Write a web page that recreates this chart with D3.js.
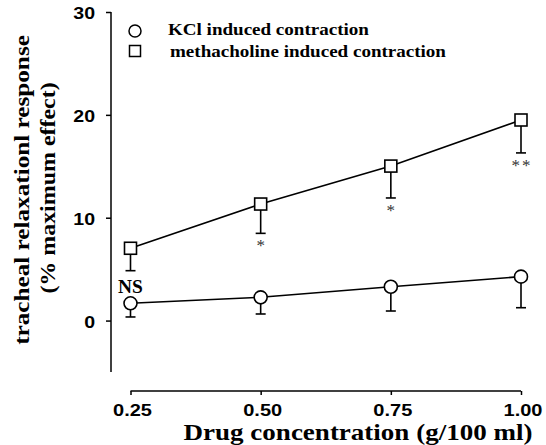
<!DOCTYPE html>
<html>
<head>
<meta charset="utf-8">
<script src="https://cdn.jsdelivr.net/npm/d3@7"></script>
<style>
  body { margin: 0; background: #fff; }
  svg { display: block; }
</style>
</head>
<body>
<svg id="chart" width="546" height="445"></svg>
<script>

// data
const concentrations = [0.25, 0.50, 0.75, 1.00];
const xTickLabels = ["0.25", "0.50", "0.75", "1.00"];
const yTicks = [0, 10, 20, 30];

const kclMean = [1.68, 2.26, 3.29, 4.27];
const kclSd = [1.33, 1.62, 2.36, 3.02];

const mchMean = [7.03, 11.33, 15.02, 19.5];
const mchSd = [2.18, 2.85, 3.1, 3.2];

const mchSignif = ["", "*", "*", "**"];
const kclSignif = ["NS", "", "", ""];

const legendLabels = ["KCl induced contraction", "methacholine induced contraction"];

const SERIF = "'Liberation Serif', 'Times New Roman', serif";
const SANS = "'Liberation Sans', Arial, sans-serif";

const vis = {

    svg : d3.select("#chart"),

    x : d3.scaleLinear().domain([0.25, 1.0]).range([130.5, 521]),
    y : d3.scaleLinear().domain([-5, 30]).range([372, 12]),

    // the original fonts are wide, so text is stretched along its own direction
    wide : function(sel, tx, ty, sx, rot) {
        sel.attr("transform", "translate(" + tx + "," + ty + ")" + (rot ? " rotate(" + rot + ")" : "") + " scale(" + sx + ",1)");
        return sel;
    },

    axes : {

        draw : function() {

            const svg = vis.svg;

            const yAxis = svg.append("g")
              .attr("transform", "translate(111,0)")
              .call(d3.axisLeft(vis.y).tickValues(yTicks).tickSize(5).tickFormat(d3.format("d")));

            yAxis.select(".domain").attr("d", "M0," + vis.y(-5) + "V" + vis.y(30)).attr("stroke-width", 1.5);
            yAxis.selectAll(".tick line").attr("stroke-width", 1.5);
            yAxis.selectAll("text")
              .attr("x", null)
              .attr("font-family", SANS)
              .attr("font-weight", "bold")
              .attr("font-size", 17)
              .attr("dy", "0.4em")
              .attr("fill", "#000")
              .call(vis.wide, -16, 0, 1.15);

            const xAxis = svg.append("g")
              .attr("transform", "translate(0,391)")
              .call(d3.axisBottom(vis.x).tickValues(concentrations).tickSize(4)
                .tickFormat((d, i) => xTickLabels[i]));

            xAxis.select(".domain").attr("d", "M" + vis.x(0.25) + ",0H" + vis.x(1.0)).attr("stroke-width", 1.5);
            xAxis.selectAll(".tick line").attr("stroke-width", 1.5);
            xAxis.selectAll("text")
              .attr("y", null)
              .attr("font-family", SANS)
              .attr("font-weight", "bold")
              .attr("font-size", 16)
              .attr("fill", "#000")
              .call(vis.wide, 1.5, 13.6, 1.25);

            svg.append("text")
              .attr("text-anchor", "middle")
              .attr("font-family", SERIF)
              .attr("font-weight", "bold")
              .attr("font-size", 23)
              .text("Drug concentration (g/100 ml)")
              .call(vis.wide, 358, 440, 1.175);

            svg.append("text")
              .attr("text-anchor", "middle")
              .attr("font-family", SERIF)
              .attr("font-weight", "bold")
              .attr("font-size", 21)
              .text("tracheal relaxationl response")
              .call(vis.wide, 29, 190, 1.2, -90);

            svg.append("text")
              .attr("text-anchor", "middle")
              .attr("font-family", SERIF)
              .attr("font-weight", "bold")
              .attr("font-size", 21)
              .text("(% maximum effect)")
              .call(vis.wide, 55, 188, 1.14, -90);
        }
    },

    series : {

        draw : function(means, sds, shape) {

            const svg = vis.svg;
            const pts = concentrations.map((c, i) => ({ c : c, m : means[i], sd : sds[i] }));

            svg.append("path")
              .datum(pts)
              .attr("fill", "none")
              .attr("stroke", "#000")
              .attr("stroke-width", 1.6)
              .attr("d", d3.line().x(d => vis.x(d.c)).y(d => vis.y(d.m)));

            const bars = svg.append("g").selectAll("g").data(pts).join("g");

            bars.append("line")
              .attr("x1", d => vis.x(d.c)).attr("x2", d => vis.x(d.c))
              .attr("y1", d => vis.y(d.m)).attr("y2", d => vis.y(d.m - d.sd))
              .attr("stroke", "#000").attr("stroke-width", 1.6);

            bars.append("line")
              .attr("x1", d => vis.x(d.c) - 5).attr("x2", d => vis.x(d.c) + 5)
              .attr("y1", d => vis.y(d.m - d.sd)).attr("y2", d => vis.y(d.m - d.sd))
              .attr("stroke", "#000").attr("stroke-width", 1.6);

            vis.series.marker(svg.append("g"), pts, shape);
        },

        marker : function(g, pts, shape) {

            const sel = g.selectAll(".mk").data(pts).join(shape === "circle" ? "circle" : "rect")
              .attr("fill", "#fff")
              .attr("stroke", "#000")
              .attr("stroke-width", 1.6);

            if (shape === "circle") {
                sel.attr("cx", d => vis.x(d.c)).attr("cy", d => vis.y(d.m)).attr("r", 6.5);
            } else {
                sel.attr("x", d => vis.x(d.c) - 6).attr("y", d => vis.y(d.m) - 6)
                  .attr("width", 12).attr("height", 12);
            }
        },

        labels : function() {

            const svg = vis.svg;

            svg.append("g").selectAll("text")
              .data(concentrations.map((c, i) => ({ c : c, v : mchMean[i] - mchSd[i], t : mchSignif[i] })))
              .join("text")
              .attr("x", d => vis.x(d.c) + 1)
              .attr("y", d => vis.y(d.v) + 18)
              .attr("text-anchor", "middle")
              .attr("font-family", SERIF)
              .attr("font-size", 17)
              .attr("fill", "#333")
              .attr("letter-spacing", 2)
              .text(d => d.t);

            svg.append("g").selectAll("text")
              .data(concentrations.map((c, i) => ({ c : c, v : kclMean[i], t : kclSignif[i] })))
              .join("text")
              .attr("text-anchor", "middle")
              .attr("font-family", SERIF)
              .attr("font-weight", "bold")
              .attr("font-size", 18)
              .text(d => d.t)
              .each(function(d) {
                  d3.select(this).call(vis.wide, vis.x(d.c), vis.y(d.v) - 10, 1.08);
              });
        }
    },

    legend : {

        draw : function() {

            const svg = vis.svg;
            const rows = svg.append("g").selectAll("g").data(legendLabels).join("g")
              .attr("transform", (d, i) => "translate(135," + (31 + i * 20) + ")");

            rows.filter((d, i) => i === 0).append("circle")
              .attr("r", 6).attr("fill", "#fff").attr("stroke", "#000").attr("stroke-width", 1.5);

            rows.filter((d, i) => i === 1).append("rect")
              .attr("x", -5.5).attr("y", -5.5).attr("width", 11).attr("height", 11)
              .attr("fill", "#fff").attr("stroke", "#000").attr("stroke-width", 1.5);

            rows.append("text")
              .attr("font-family", SERIF)
              .attr("font-weight", "bold")
              .attr("font-size", 16)
              .text(d => d)
              .each(function(d, i) {
                  d3.select(this).call(vis.wide, 33 + i * 2, 3.8 + i * 2.5, 1.19);
              });
        }
    },

    ctrl : {

        init : function() {
            vis.axes.draw();
            vis.series.draw(kclMean, kclSd, "circle");
            vis.series.draw(mchMean, mchSd, "square");
            vis.series.labels();
            vis.legend.draw();
        }
    }
};

vis.ctrl.init();
</script>
</body>
</html>
